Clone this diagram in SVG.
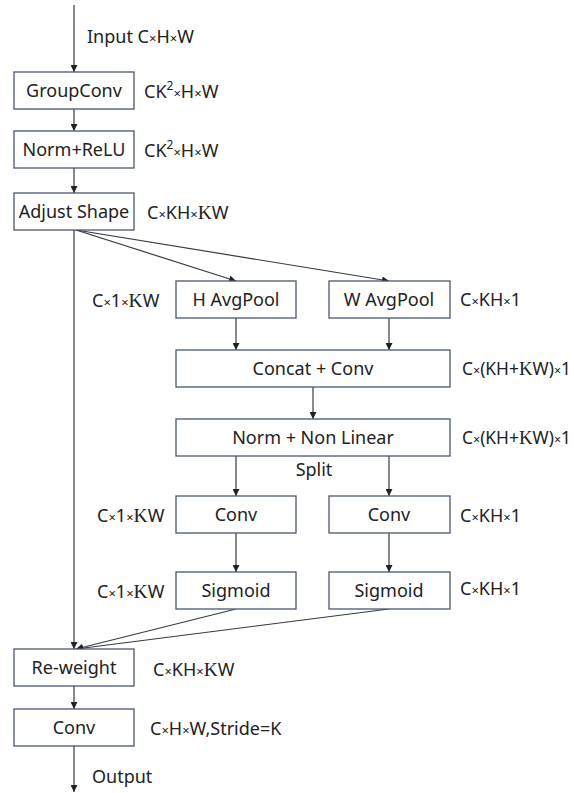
<svg xmlns="http://www.w3.org/2000/svg" width="574" height="793" viewBox="0 0 574 793">
<style>
.box{fill:#fff;stroke:#4a5676;stroke-width:1.3}
.t{font-family:"Noto Sans","Open Sans",sans-serif;font-size:18px;fill:#222}
.c{text-anchor:middle}
.x{font-size:13px}
.k{font-family:"Liberation Serif",serif;font-size:19.5px}
.ln{stroke:#3a3a3a;stroke-width:1.2;fill:none}
</style>
<defs>
<marker id="ah" viewBox="0 0 10 10" refX="10" refY="5" markerWidth="7" markerHeight="7" orient="auto" markerUnits="userSpaceOnUse">
<path d="M0,0 L10,5 L0,10 z" fill="#222"/>
</marker>
</defs>
<rect width="574" height="793" fill="#fff"/>
<g id="connectors">
<line class="ln" x1="74" y1="5" x2="74" y2="72" marker-end="url(#ah)"/>
<line class="ln" x1="74" y1="109" x2="74" y2="131" marker-end="url(#ah)"/>
<line class="ln" x1="74" y1="168" x2="74" y2="193" marker-end="url(#ah)"/>
<line class="ln" x1="74" y1="230" x2="74" y2="649" marker-end="url(#ah)"/>
<line class="ln" x1="76" y1="230" x2="236" y2="281" marker-end="url(#ah)"/>
<line class="ln" x1="76" y1="230" x2="389" y2="281" marker-end="url(#ah)"/>
<line class="ln" x1="236" y1="318" x2="236" y2="350" marker-end="url(#ah)"/>
<line class="ln" x1="389" y1="318" x2="389" y2="350" marker-end="url(#ah)"/>
<line class="ln" x1="313" y1="387" x2="313" y2="419" marker-end="url(#ah)"/>
<line class="ln" x1="236" y1="456" x2="236" y2="496" marker-end="url(#ah)"/>
<line class="ln" x1="389" y1="456" x2="389" y2="496" marker-end="url(#ah)"/>
<line class="ln" x1="236" y1="533" x2="236" y2="572" marker-end="url(#ah)"/>
<line class="ln" x1="389" y1="533" x2="389" y2="572" marker-end="url(#ah)"/>
<line class="ln" x1="236" y1="609" x2="76" y2="649" marker-end="url(#ah)"/>
<line class="ln" x1="389" y1="609" x2="76" y2="649" marker-end="url(#ah)"/>
<line class="ln" x1="74" y1="686" x2="74" y2="709" marker-end="url(#ah)"/>
<line class="ln" x1="74" y1="746" x2="74" y2="792" marker-end="url(#ah)"/>
</g>
<g id="input-label"><text class="t" x="87" y="43">Input C<tspan class="x">×</tspan>H<tspan class="x">×</tspan>W</text></g>
<g id="groupconv">
<rect class="box" x="14" y="72" width="120" height="37"/>
<text class="t c" x="74" y="97">GroupConv</text>
<text class="t" x="144" y="98">CK<tspan font-size="12" dy="-8">2</tspan><tspan class="x" dy="8">×</tspan>H<tspan class="x">×</tspan>W</text>
</g>
<g id="normrelu">
<rect class="box" x="14" y="131" width="120" height="37"/>
<text class="t c" x="74" y="156">Norm+ReLU</text>
<text class="t" x="144" y="157">CK<tspan font-size="12" dy="-8">2</tspan><tspan class="x" dy="8">×</tspan>H<tspan class="x">×</tspan>W</text>
</g>
<g id="adjust">
<rect class="box" x="14" y="193" width="120" height="37"/>
<text class="t c" x="74" y="218">Adjust Shape</text>
<text class="t" x="147" y="219">C<tspan class="x">×</tspan>KH<tspan class="x">×</tspan><tspan class="k">K</tspan>W</text>
</g>
<g id="havgpool">
<rect class="box" x="176" y="281" width="120" height="37"/>
<text class="t c" x="236" y="306">H AvgPool</text>
<text class="t" x="92" y="307">C<tspan class="x">×</tspan>1<tspan class="x">×</tspan><tspan class="k">K</tspan>W</text>
</g>
<g id="wavgpool">
<rect class="box" x="329" y="281" width="121" height="37"/>
<text class="t c" x="389" y="306">W AvgPool</text>
<text class="t" x="460" y="306">C<tspan class="x">×</tspan>KH<tspan class="x">×</tspan>1</text>
</g>
<g id="concat">
<rect class="box" x="176" y="350" width="274" height="37"/>
<text class="t c" x="313" y="375">Concat + Conv</text>
<text class="t" x="462" y="375" textLength="109" lengthAdjust="spacingAndGlyphs">C<tspan class="x">×</tspan>(KH+<tspan class="k">K</tspan>W)<tspan class="x">×</tspan>1</text>
</g>
<g id="norm-nonlinear">
<rect class="box" x="176" y="419" width="274" height="37"/>
<text class="t c" x="313" y="444">Norm + Non Linear</text>
<text class="t" x="462" y="444" textLength="109" lengthAdjust="spacingAndGlyphs">C<tspan class="x">×</tspan>(KH+<tspan class="k">K</tspan>W)<tspan class="x">×</tspan>1</text>
<text class="t c" x="314" y="476">Split</text>
</g>
<g id="conv-h">
<rect class="box" x="176" y="496" width="120" height="37"/>
<text class="t c" x="236" y="521">Conv</text>
<text class="t" x="97" y="522">C<tspan class="x">×</tspan>1<tspan class="x">×</tspan><tspan class="k">K</tspan>W</text>
</g>
<g id="conv-w">
<rect class="box" x="329" y="496" width="121" height="37"/>
<text class="t c" x="389" y="521">Conv</text>
<text class="t" x="460" y="522">C<tspan class="x">×</tspan>KH<tspan class="x">×</tspan>1</text>
</g>
<g id="sigmoid-h">
<rect class="box" x="176" y="572" width="120" height="37"/>
<text class="t c" x="236" y="597">Sigmoid</text>
<text class="t" x="97" y="598">C<tspan class="x">×</tspan>1<tspan class="x">×</tspan><tspan class="k">K</tspan>W</text>
</g>
<g id="sigmoid-w">
<rect class="box" x="329" y="572" width="121" height="37"/>
<text class="t c" x="389" y="597">Sigmoid</text>
<text class="t" x="460" y="595">C<tspan class="x">×</tspan>KH<tspan class="x">×</tspan>1</text>
</g>
<g id="reweight">
<rect class="box" x="14" y="649" width="120" height="37"/>
<text class="t c" x="74" y="674">Re-weight</text>
<text class="t" x="153" y="676">C<tspan class="x">×</tspan>KH<tspan class="x">×</tspan><tspan class="k">K</tspan>W</text>
</g>
<g id="conv-out">
<rect class="box" x="14" y="709" width="120" height="37"/>
<text class="t c" x="74" y="734">Conv</text>
<text class="t" x="150" y="735">C<tspan class="x">×</tspan>H<tspan class="x">×</tspan>W,Stride=K</text>
</g>
<g id="output-label"><text class="t" x="92" y="783">Output</text></g>
</svg>
